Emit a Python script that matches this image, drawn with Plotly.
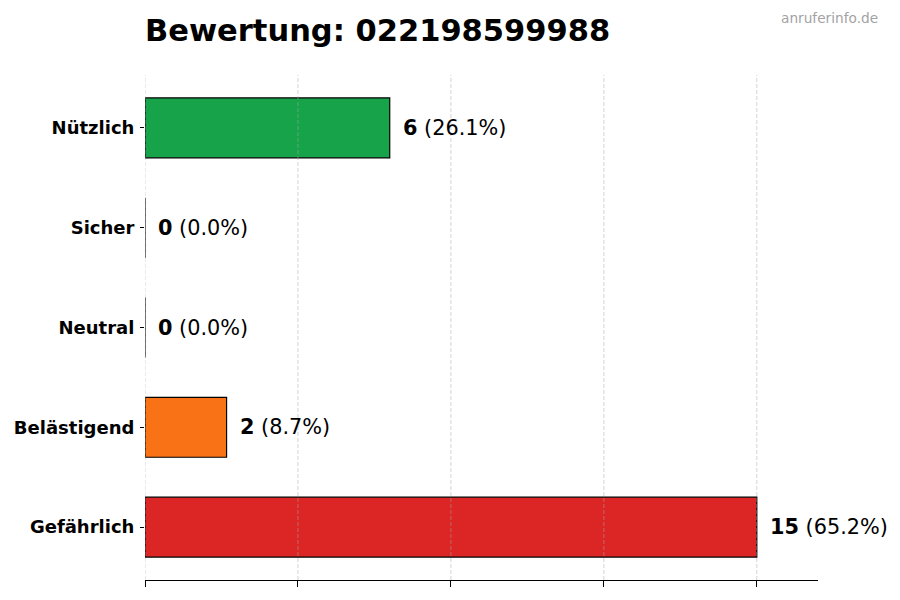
import plotly.graph_objects as go

# ratings (bottom to top as drawn)
categories = ["Gefährlich", "Belästigend", "Neutral", "Sicher", "Nützlich"]
counts = [15, 2, 0, 0, 6]
colors = ["#dc2626", "#f97316", "#9ca3af", "#3b82f6", "#16a34a"]
number = "022198599988"

total = sum(counts)
font = "DejaVu Sans"
xmax = max(counts) * 1.1
step = max(counts) / 4

# page body has an 8px margin, so the figure is a bit smaller than the window
W, H = 892, 592

fig = go.Figure()
fig.add_trace(go.Bar(
    x=counts, y=categories, orientation="h", width=0.6,
    marker=dict(color=colors, line=dict(color="black", width=1.2)),
    hoverinfo="skip",
))

for cat, n in zip(categories, counts):
    pct = n / total * 100
    fig.add_annotation(
        x=n, y=cat, xref="x", yref="y", xanchor="left", yanchor="middle",
        xshift=11, showarrow=False,
        text="<b>{}</b> ({:.1f}%)".format(n, pct),
        font=dict(family=font, size=20.8, color="black"),
    )

fig.add_annotation(
    x=1.0, y=1.0, xref="paper", yref="paper", xanchor="right", yanchor="top",
    xshift=82 - 20, yshift=67 - 0, showarrow=False,
    text="anruferinfo.de", font=dict(family=font, size=13.7, color="#a3a3a3"),
)

# dashed grid drawn over the bars
g = 0.0
while g <= xmax:
    fig.add_shape(type="line", xref="x", yref="paper", x0=g, x1=g, y0=0, y1=1,
                  layer="above",
                  line=dict(color="rgba(170,170,170,0.5)", width=1, dash="4px,2px"))
    g += step

fig.update_layout(
    width=W, height=H,
    margin=dict(l=137, r=82, t=67, b=20),
    plot_bgcolor="white", paper_bgcolor="white",
    showlegend=False,
    title=dict(text="<b>Bewertung: {}</b>".format(number),
               x=137 / W, xanchor="left", y=1 - 22 / H, yanchor="middle",
               font=dict(family=font, size=30.5, color="black")),
    xaxis=dict(range=[0, xmax], tick0=0, dtick=step, automargin=False,
               showticklabels=False, ticks="outside", ticklen=6,
               tickcolor="black", showline=True, linecolor="black", linewidth=1,
               showgrid=False, zeroline=False, fixedrange=True),
    yaxis=dict(categoryorder="array", categoryarray=categories, automargin=False,
               range=[-0.53, 4.53], ticks="outside", ticklen=4,
               tickcolor="black", showline=False, showgrid=False,
               zeroline=False, ticklabelstandoff=2,
               tickfont=dict(family=font, size=18, color="black", weight="bold")),
)

fig.write_html("out.html")
